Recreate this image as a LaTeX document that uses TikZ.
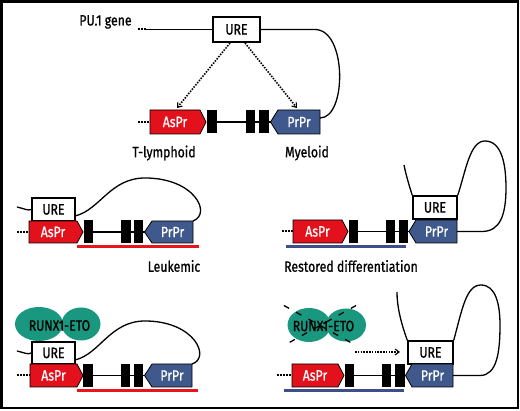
\documentclass[tikz,border=0pt]{standalone}
\usepackage{fontspec}
\setmainfont[FakeStretch=0.82,FakeBold=0.9]{Fira Sans}
\usetikzlibrary{arrows.meta}
\definecolor{asred}{HTML}{E3111B}
\definecolor{prblue}{HTML}{3F598C}
\definecolor{ulred}{HTML}{E8141C}
\definecolor{ulblue}{HTML}{3C4F8A}
\definecolor{teal}{HTML}{19977F}
\tikzset{
  lab/.style={font=\fontsize{15}{17}\selectfont, inner sep=0pt},
  ptext/.style={font=\fontsize{15}{17}\selectfont, text=white, inner sep=0pt},
  prom/.style={draw=black, line width=0.8pt},
  urebox/.style={draw=black, line width=1.5pt, fill=white, inner sep=0pt, font=\fontsize{15}{17}\selectfont},
  exon/.style={fill=black, inner sep=0pt, minimum width=9.5pt, minimum height=23pt},
  dna/.style={line width=1.3pt},
  dots/.style={line width=2pt, dash pattern=on 1.6pt off 1.5pt},
  darrow/.style={line width=1.6pt, dash pattern=on 1.5pt off 1.3pt, -{Straight Barb[length=4pt,width=6pt,line width=1.1pt]}},
  uline/.style={line width=3pt},
  lobe/.style={fill=teal, draw=none},
}
% AsPr: name, x left, x flat end, x tip, y top, y bottom
\newcommand\AsBox[6]{%
  \draw[prom, fill=asred] (#2,#5) -- (#3,#5) -- (#4,{(#5+#6)/2}) -- (#3,#6) -- (#2,#6) -- cycle;
  \node[ptext] (#1) at ({(#2+#3)/2},{(#5+#6)/2}) {AsPr};
  \coordinate (#1-w) at (#2,{(#5+#6)/2});
  \coordinate (#1-tip) at (#4,{(#5+#6)/2});
}
% PrPr: name, x tip, x corner, x right, y top, y bottom
\newcommand\PrBox[6]{%
  \draw[prom, fill=prblue] (#2,{(#5+#6)/2}) -- (#3,#5) -- (#4,#5) -- (#4,#6) -- (#3,#6) -- cycle;
  \node[ptext] (#1) at ({(#3+#4)/2},{(#5+#6)/2}) {PrPr};
  \coordinate (#1-tip) at (#2,{(#5+#6)/2});
  \coordinate (#1-e) at (#4,{(#5+#6)/2});
  \coordinate (#1-ne) at (#4,#5);
}
\begin{document}
\begin{tikzpicture}[x=1pt,y=-1pt]
\useasboundingbox (0,0) rectangle (520,411);
\draw[line width=2.5pt] (1.5,1.5) rectangle (518,408);

% ---------------- Panel 1 ----------------
\node[lab, anchor=base] (pu) at (105.5,25.5) {PU.1 gene};
\node[urebox, minimum width=47pt, minimum height=25pt] (ure1) at (236.5,29.5) {URE};
\coordinate (d1a) at (138,29.5);
\coordinate (d1b) at (146,29.5);
\draw[dots] (d1a) -- (d1b);
\draw[dna] (d1b) -- (ure1.west);
\AsBox{as1}{150}{200}{206}{110}{134}
\node[exon] (e1a) at (212,122) {};
\node[exon] (e1b) at (250.5,122) {};
\node[exon] (e1c) at (264,122) {};
\PrBox{pr1}{270.5}{278}{320}{110}{134}
\draw[dna] (e1a.east) -- (e1b.west) (e1b.east) -- (e1c.west) (e1c.east) -- (pr1-tip);
\coordinate (d1c) at (138,122);
\draw[dots] (d1c) -- (as1-w);
\coordinate (c1a) at (315,29.5);
\coordinate (c1b) at (320,118);
\draw[dna] (ure1.east) -- (c1a) .. controls (347,29.5) and (347,118) .. (c1b);
\coordinate (a1s) at (230,43);
\coordinate (a1e) at (177,108);
\coordinate (a2s) at (245,43);
\coordinate (a2e) at (297,108);
\draw[darrow] (a1s) -- (a1e);
\draw[darrow] (a2s) -- (a2e);
\node[lab] (tl) at (164,153) {T-lymphoid};
\node[lab] (my) at (307,153) {Myeloid};

% ---------------- Panel 2 ----------------
\node[urebox, minimum width=43pt, minimum height=23pt] (ure2) at (53.5,209.5) {URE};
\AsBox{as2}{29}{77}{83}{221}{243}
\node[exon] (e2a) at (88.5,232) {};
\node[exon] (e2b) at (126,232) {};
\node[exon] (e2c) at (138.5,232) {};
\PrBox{pr2}{144.5}{152}{193}{221}{243}
\draw[dna] (e2a.east) -- (e2b.west) (e2b.east) -- (e2c.west) (e2c.east) -- (pr2-tip);
\coordinate (d2a) at (17,232);
\draw[dots] (d2a) -- (as2-w);
\coordinate (l2a) at (17,207);
\draw[dna] (l2a) .. controls (24,208.5) and (28,211) .. (ure2.west);
\coordinate (l2b) at (75,216);
\coordinate (l2c) at (145,178);
\draw[dna] (l2b) .. controls (100,210) and (110,178) .. (l2c) .. controls (195,178) and (212,214) .. (pr2-ne);
\coordinate (u2a) at (77,247);
\coordinate (u2b) at (199,247);
\draw[uline, ulred] (u2a) -- (u2b);
\node[lab] (leuk) at (174,266) {Leukemic};

% ---------------- Panel 3 ----------------
\node[urebox, minimum width=44pt, minimum height=23pt] (ure3) at (435,207.5) {URE};
\AsBox{as3}{293}{342}{348}{220}{243}
\node[exon] (e3a) at (353.5,231.5) {};
\node[exon] (e3b) at (390.5,231.5) {};
\node[exon] (e3c) at (403.5,231.5) {};
\PrBox{pr3}{409}{416}{457}{220}{243}
\draw[dna] (e3a.east) -- (e3b.west) (e3b.east) -- (e3c.west) (e3c.east) -- (pr3-tip);
\coordinate (d3a) at (282,231.5);
\draw[dots] (d3a) -- (as3-w);
\coordinate (l3a) at (404,165);
\draw[dna] (ure3.north west) .. controls (409,185) and (406,175) .. (l3a);
\coordinate (l3b) at (485,141);
\coordinate (l3c) at (506,188);
\coordinate (l3d) at (482,231.5);
\draw[dna] (ure3.north east) .. controls (466,170) and (470,141) .. (l3b) .. controls (502,141) and (506,165) .. (l3c) .. controls (506,215) and (500,231.5) .. (l3d) -- (pr3-e);
\coordinate (u3a) at (286,246.5);
\coordinate (u3b) at (406,246.5);
\draw[uline, ulblue] (u3a) -- (u3b);
\node[lab] (rest) at (351,266) {Restored differentiation};

% ---------------- Panel 4 ----------------
\fill[lobe] (39,324) ellipse [x radius=24, y radius=17];
\fill[lobe] (81,324) ellipse [x radius=19.5, y radius=16.5];
\node[lab] (rx4) at (59.5,325.5) {RUNX1-ETO};
\node[urebox, minimum width=43pt, minimum height=22pt] (ure4) at (53.5,353) {URE};
\AsBox{as4}{30}{77}{83}{364}{387}
\node[exon] (e4a) at (88,375.5) {};
\node[exon] (e4b) at (125.5,375.5) {};
\node[exon] (e4c) at (138.5,375.5) {};
\PrBox{pr4}{144.5}{152}{192}{364}{387}
\draw[dna] (e4a.east) -- (e4b.west) (e4b.east) -- (e4c.west) (e4c.east) -- (pr4-tip);
\coordinate (d4a) at (17,375.5);
\draw[dots] (d4a) -- (as4-w);
\coordinate (l4a) at (17,351);
\draw[dna] (l4a) .. controls (24,352.5) and (28,355) .. (ure4.west);
\coordinate (l4b) at (75,360);
\coordinate (l4c) at (145,321);
\draw[dna] (l4b) .. controls (100,354) and (110,321) .. (l4c) .. controls (195,321) and (211,358) .. (pr4-ne);
\coordinate (u4a) at (77,391);
\coordinate (u4b) at (198,391);
\draw[uline, ulred] (u4a) -- (u4b);

% ---------------- Panel 5 ----------------
\fill[lobe] (309,325) ellipse [x radius=21.5, y radius=17];
\fill[lobe] (346,325) ellipse [x radius=20, y radius=16.5];
\node[lab] (rx5) at (323.5,326) {RUNX1-ETO};
\coordinate (x1a) at (283,305);
\coordinate (x1b) at (357,346);
\coordinate (x2a) at (357,305);
\coordinate (x2b) at (283,346);
\draw[line width=1.3pt, dash pattern=on 6pt off 8pt, dash phase=-1pt] (x1a) -- (x1b);
\draw[line width=1.3pt, dash pattern=on 6pt off 8pt, dash phase=-1pt] (x2a) -- (x2b);
\node[urebox, minimum width=45pt, minimum height=23pt] (ure5) at (430.5,352.5) {URE};
\AsBox{as5}{292}{338}{344}{364}{387}
\node[exon] (e5a) at (349.5,375.5) {};
\node[exon] (e5b) at (386.5,375.5) {};
\node[exon] (e5c) at (400,375.5) {};
\PrBox{pr5}{405.5}{412}{453}{364}{387}
\draw[dna] (e5a.east) -- (e5b.west) (e5b.east) -- (e5c.west) (e5c.east) -- (pr5-tip);
\coordinate (d5a) at (277,375.5);
\draw[dots] (d5a) -- (as5-w);
\coordinate (l5a) at (397,292);
\draw[dna] (ure5.north west) .. controls (400,320) and (397,305) .. (l5a);
\coordinate (l5b) at (481,285);
\coordinate (l5c) at (500,325);
\coordinate (l5d) at (480,375.5);
\draw[dna] (ure5.north east) .. controls (462,310) and (466,285) .. (l5b) .. controls (496,285) and (500,305) .. (l5c) .. controls (500,352) and (497,375.5) .. (l5d) -- (pr5-e);
\coordinate (a5s) at (355,352);
\coordinate (a5e) at (400,352);
\draw[darrow] (a5s) -- (a5e);
\coordinate (u5a) at (284,391);
\coordinate (u5b) at (404,391);
\draw[uline, ulblue] (u5a) -- (u5b);
\end{tikzpicture}
\end{document}
